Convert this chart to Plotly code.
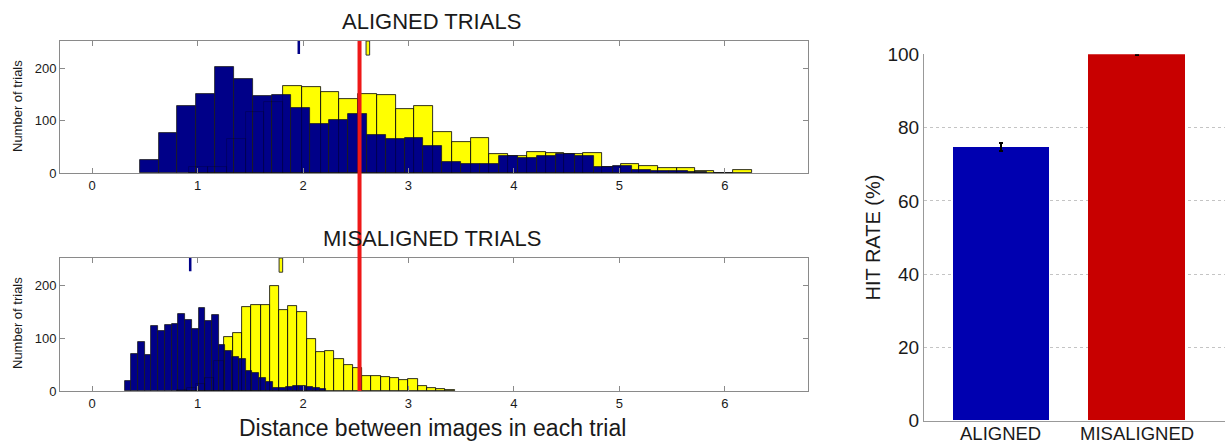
import numpy as np
import plotly.graph_objects as go

# ---------------- data ----------------
# Histogram bins: first bin edge, bin width, and counts per bin
aligned_blue_start = 0.45
aligned_blue_width = 0.1795
aligned_blue_counts = [25, 76, 129, 152, 203, 181, 147, 150, 125, 93, 101, 114, 73, 65, 68,
                       51, 22, 18, 18, 33, 28, 32, 37, 32, 11, 13, 6, 4, 3, 2]

aligned_yellow_start = 0.922
aligned_yellow_width = 0.1778
aligned_yellow_counts = [12, 12, 65, 117, 136, 167, 165, 156, 141, 151, 150, 122, 128, 79, 60,
                         68, 36, 32, 40, 38, 37, 38, 12, 17, 13, 10, 9, 3, 0, 5]

misaligned_blue_start = 0.307
misaligned_blue_width = 0.0638
misaligned_blue_counts = [19, 70, 93, 68, 123, 115, 125, 127, 146, 135, 117, 157, 133, 145, 87,
                          77, 65, 60, 39, 35, 25, 17, 6, 5, 8, 10, 9, 8, 6, 4]

misaligned_yellow_start = 0.8075
misaligned_yellow_width = 0.0877
misaligned_yellow_counts = [2, 5, 14, 25, 58, 102, 110, 160, 164, 163, 199, 155, 162, 151, 99,
                            75, 76, 60, 50, 44, 28, 29, 27, 25, 21, 22, 10, 6, 3, 2]

# Mean distance of each distribution (blue, yellow)
aligned_means = [1.96, 2.615]
misaligned_means = [0.93, 1.79]

# Decision threshold on distance
threshold = 2.536

# Hit rate per condition
conditions = ["ALIGNED", "MISALIGNED"]
hit_rate = [74.7, 100.0]
hit_rate_err = [1.1, 0.15]

dist_ticks = [0, 1, 2, 3, 4, 5, 6]
count_ticks = [0, 100, 200]
rate_ticks = [0, 20, 40, 60, 80, 100]

# ---------------- style ----------------
W, H = 1225, 447
FONT = "Arial, 'Liberation Sans', sans-serif"
TXT = "#1a1a1a"
NAVY = "#000088"
YELLOW = "#ffff00"
EDGE = "#1a1a1a"
AXC = "#8a8a8a"
YMAX = 253


def px_x(p):
    return p / W


def px_y(p):
    return 1 - p / H


def centers(start, width, n):
    return start + width * (np.arange(n) + 0.5)


fig = go.Figure()


def add_hist(start, width, counts, color, xa, ya, outline_only=False):
    n = len(counts)
    if outline_only:
        marker = dict(color="rgba(0,0,0,0)", line=dict(color="rgba(0,0,0,0.3)", width=0.8))
    else:
        marker = dict(color=color, line=dict(color=EDGE, width=0.8))
    fig.add_trace(go.Bar(
        x=centers(start, width, n), y=counts, width=width,
        marker=marker, xaxis=xa, yaxis=ya, showlegend=False, hoverinfo="skip",
    ))


# Aligned trials panel: yellow underneath, blue on top, faint yellow outlines over blue
add_hist(aligned_yellow_start, aligned_yellow_width, aligned_yellow_counts, YELLOW, "x", "y")
add_hist(aligned_blue_start, aligned_blue_width, aligned_blue_counts, NAVY, "x", "y")
add_hist(aligned_yellow_start, aligned_yellow_width, aligned_yellow_counts, YELLOW, "x", "y",
         outline_only=True)

# Misaligned trials panel
add_hist(misaligned_yellow_start, misaligned_yellow_width, misaligned_yellow_counts, YELLOW, "x2", "y2")
add_hist(misaligned_blue_start, misaligned_blue_width, misaligned_blue_counts, NAVY, "x2", "y2")
add_hist(misaligned_yellow_start, misaligned_yellow_width, misaligned_yellow_counts, YELLOW, "x2", "y2",
         outline_only=True)

# Hit-rate bars
fig.add_trace(go.Bar(
    x=[1, 2], y=hit_rate, width=0.71,
    marker=dict(color=["#0000b0", "#c80000"], line=dict(width=0)),
    error_y=dict(type="data", array=hit_rate_err, color="black", thickness=2.2, width=2),
    xaxis="x3", yaxis="y3", showlegend=False, hoverinfo="skip",
))

# Mean markers hanging from the top of each histogram
shapes = []
mark_len = 25
for means, xr, yr in [(aligned_means, "x", "y"), (misaligned_means, "x2", "y2")]:
    shapes.append(dict(type="rect", xref=xr, yref=yr,
                       x0=means[0] - 0.012, x1=means[0] + 0.012,
                       y0=YMAX - mark_len, y1=YMAX,
                       fillcolor=NAVY, line=dict(width=0), layer="above"))
    shapes.append(dict(type="rect", xref=xr, yref=yr,
                       x0=means[1] - 0.017, x1=means[1] + 0.017,
                       y0=YMAX - mark_len - 2, y1=YMAX,
                       fillcolor=YELLOW, line=dict(color="#333333", width=1), layer="above"))

# Threshold line spanning both histogram panels
top_dom = [px_y(173), px_y(41)]
bot_dom = [px_y(391), px_y(258)]
shapes.append(dict(type="line", xref="x", yref="paper",
                   x0=threshold, x1=threshold, y0=bot_dom[0], y1=top_dom[1],
                   line=dict(color="#ee1818", width=4), layer="above"))

hist_x = dict(
    range=[-0.305, 6.785], tickvals=dist_ticks, ticks="inside", ticklen=5,
    tickcolor=AXC, mirror="allticks", showline=True, linecolor=AXC, linewidth=1,
    showgrid=False, zeroline=False, tickfont=dict(family=FONT, size=13, color=TXT),
    fixedrange=True, automargin=False,
)
hist_y = dict(
    range=[0, YMAX], tickvals=count_ticks, ticks="inside", ticklen=5,
    tickcolor=AXC, mirror="allticks", showline=True, linecolor=AXC, linewidth=1,
    showgrid=False, zeroline=False, tickfont=dict(family=FONT, size=13, color=TXT),
    fixedrange=True, automargin=False,
)
hdom = [px_x(60), px_x(807.5)]

annotations = [
    dict(text="ALIGNED TRIALS", x=px_x(431), y=px_y(22), font=dict(size=22)),
    dict(text="MISALIGNED TRIALS", x=px_x(432), y=px_y(238), font=dict(size=22)),
    dict(text="Distance between images in each trial", x=px_x(432.5), y=px_y(428),
         font=dict(size=23)),
    dict(text="Number of trials", x=px_x(17), y=px_y(106), textangle=-90, font=dict(size=13)),
    dict(text="Number of trials", x=px_x(17), y=px_y(323), textangle=-90, font=dict(size=13)),
    dict(text="HIT RATE (%)", x=px_x(872), y=px_y(237.5), textangle=-90, font=dict(size=20)),
]
for a in annotations:
    a.update(xref="paper", yref="paper", showarrow=False, xanchor="center", yanchor="middle")
    a["font"].update(family=FONT, color=TXT)

# Category labels under the hit-rate bars
for i, name in enumerate(conditions):
    annotations.append(dict(text=name, x=i + 1, xref="x3", y=px_y(433.5), yref="paper",
                            showarrow=False, xanchor="center", yanchor="middle",
                            font=dict(family=FONT, size=18.5, color=TXT)))

fig.update_layout(
    width=W, height=H, autosize=False,
    margin=dict(l=0, r=0, t=0, b=0, pad=0, autoexpand=False),
    paper_bgcolor="white", plot_bgcolor="white",
    barmode="overlay", bargap=0,
    showlegend=False,
    xaxis=dict(domain=hdom, anchor="y", **hist_x),
    yaxis=dict(domain=top_dom, anchor="x", **hist_y),
    xaxis2=dict(domain=hdom, anchor="y2", **hist_x),
    yaxis2=dict(domain=bot_dom, anchor="x2", **hist_y),
    xaxis3=dict(domain=[px_x(924), 1.0], anchor="y3", range=[0.432, 2.653],
                tickvals=[1, 2], showticklabels=False, ticks="", showline=True,
                linecolor="#999999", linewidth=1.2, showgrid=False, zeroline=False,
                fixedrange=True, automargin=False),
    yaxis3=dict(domain=[px_y(420.7), px_y(54.3)], anchor="x3", range=[0, 100.05],
                tickvals=rate_ticks, ticks="", showline=True, linecolor="#999999",
                linewidth=1.2, showgrid=True, gridcolor="#c4c4c4", griddash="dot",
                gridwidth=1, zeroline=False,
                tickfont=dict(family=FONT, size=19, color=TXT), fixedrange=True,
                automargin=False),
    shapes=shapes,
    annotations=annotations,
)

fig.write_html("out.html", config={"displayModeBar": False})
